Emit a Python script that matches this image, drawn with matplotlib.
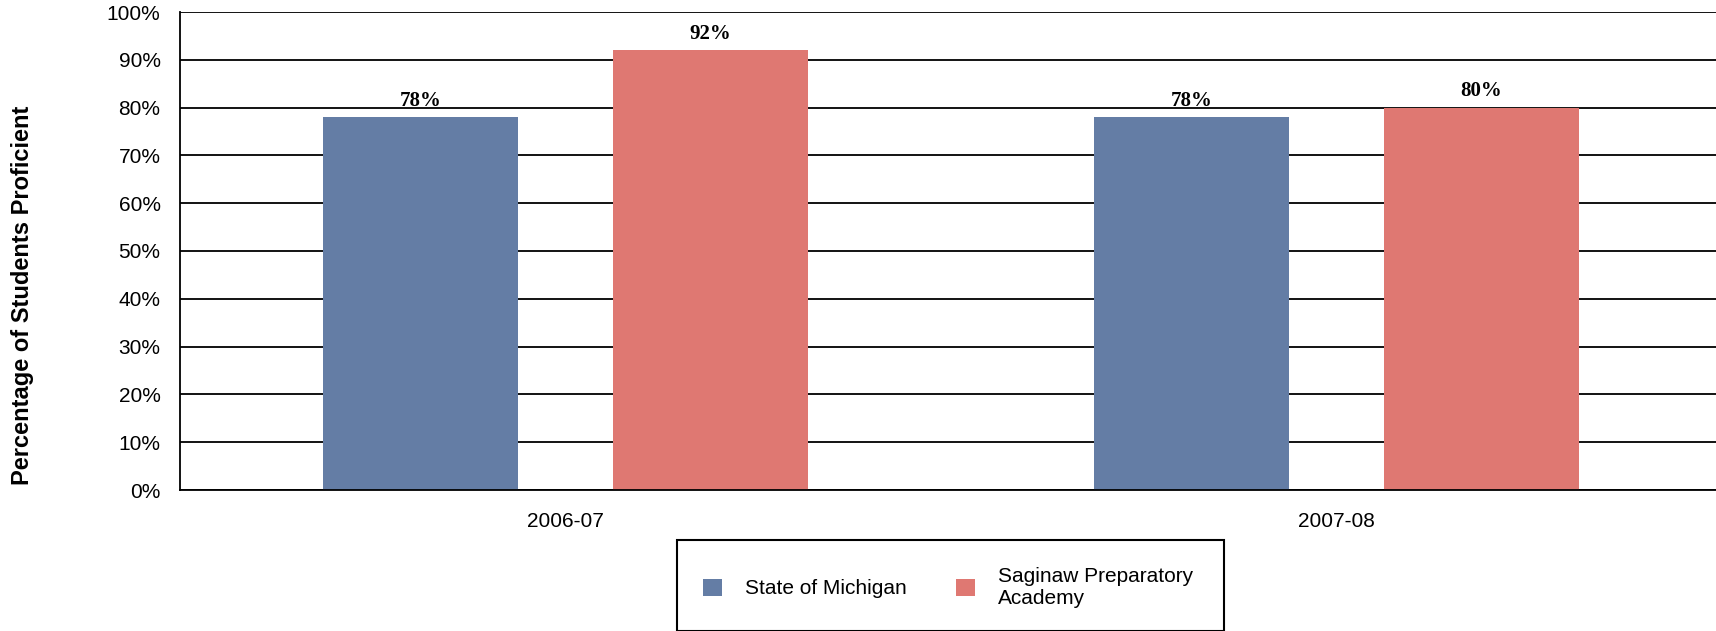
import matplotlib
matplotlib.use("Agg")
import matplotlib.pyplot as plt
import numpy as np
from matplotlib.patches import Rectangle

categories = ["2006-07", "2007-08"]
series_names = ["State of Michigan", "Saginaw Preparatory\nAcademy"]
michigan = [78, 78]
saginaw = [92, 80]
yticks = [0, 10, 20, 30, 40, 50, 60, 70, 80, 90, 100]
ytick_labels = [f"{v}%" for v in yticks]

colors = ["#647DA5", "#DF7872"]

plt.rcParams['font.family'] = ['Liberation Sans', 'DejaVu Sans']

W, H = 1716, 631
fig = plt.figure(figsize=(W / 100, H / 100), dpi=100)
# axes in pixel coords: left 180, right 1722, top 12, bottom 490
ax = fig.add_axes([180 / W, 1 - 490 / H, (1722 - 180) / W, (490 - 12) / H])

x = np.arange(len(categories))
bw = 0.254
off = 0.188
bars = []
for i, (vals, c) in enumerate(zip([michigan, saginaw], colors)):
    b = ax.bar(x + (-off if i == 0 else off), vals, width=bw, color=c,
               label=series_names[i], zorder=3)
    bars.append(b)
    for rect, v in zip(b, vals):
        ax.annotate(f"{v}%", (rect.get_x() + rect.get_width() / 2, v),
                    xytext=(0, 4.5), textcoords="offset points",
                    ha="center", va="bottom", fontsize=15, fontweight="bold",
                    family=["Liberation Serif", "DejaVu Serif"], zorder=4)

ax.set_xlim(-0.5, 1.5)
ax.set_ylim(0, 100)
ax.set_yticks(yticks)
ax.set_yticklabels(ytick_labels, fontsize=15)
ax.set_xticks(x)
ax.set_xticklabels(categories, fontsize=15)
ax.tick_params(axis="both", length=0)
ax.tick_params(axis="y", pad=14)
ax.tick_params(axis="x", pad=16)
ax.yaxis.grid(True, color="black", linewidth=1.3, zorder=1)
ax.set_axisbelow(True)
for s in ["top", "right"]:
    ax.spines[s].set_visible(False)
for s in ["left", "bottom"]:
    ax.spines[s].set_linewidth(1.3)
    ax.spines[s].set_zorder(5)

fig.text(23 / W, 1 - 295 / H, "Percentage of Students Proficient", rotation=90,
         ha="center", va="center", fontsize=17, fontweight="bold")

# legend box
fig.patches.append(Rectangle((677 / W, 0), (1224 - 677) / W, (631 - 540) / H,
                             transform=fig.transFigure, fill=False,
                             edgecolor="black", linewidth=1.5))
fig.legend(handles=bars, labels=series_names, loc="center left",
           bbox_to_anchor=(703 / W, 1 - 587 / H), ncol=2, frameon=False,
           borderpad=0, borderaxespad=0,
           fontsize=15, handlelength=0.9, handleheight=0.9, handletextpad=1.1,
           columnspacing=2.4, labelspacing=0.1)

fig.savefig("out.png", dpi=100)
